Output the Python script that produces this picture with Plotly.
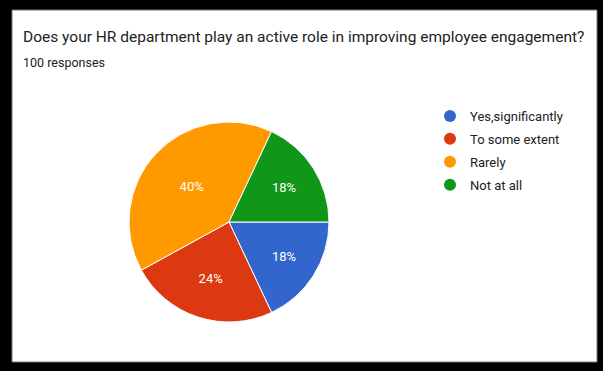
import plotly.graph_objects as go

# Survey answers and their share of the 100 responses
categories = ["Yes,significantly", "To some extent", "Rarely", "Not at all"]
shares = [18, 24, 40, 18]
colors = ["#3366CC", "#DC3912", "#FF9900", "#109618"]

title_text = "Does your HR department play an active role in improving employee engagement?"
subtitle_text = "100 responses"

W, H = 603, 371
FONT = "Roboto, Arial, sans-serif"

fig = go.Figure()

fig.add_trace(go.Pie(
    labels=categories,
    values=shares,
    sort=False,
    direction="clockwise",
    rotation=90,
    marker=dict(colors=colors, line=dict(color="white", width=1)),
    textinfo="percent",
    texttemplate="%{percent:.0%}",
    textposition="inside",
    insidetextorientation="horizontal",
    textfont=dict(color="white", size=13, family=FONT),
    showlegend=False,
    hoverinfo="label+percent",
    domain=dict(x=[(229 - 100) / W, (229 + 100) / W],
                y=[(H - 222 - 100) / H, (H - 222 + 100) / H]),
))

# Legend entries with round markers
for name, col in zip(categories, colors):
    fig.add_trace(go.Scatter(
        x=[None], y=[None], mode="markers", name=name,
        legendgroup=name,
        marker=dict(symbol="circle", size=12, color=col),
    ))

fig.update_layout(
    width=W, height=H,
    margin=dict(l=0, r=0, t=0, b=0),
    paper_bgcolor="black",
    plot_bgcolor="white",
    xaxis=dict(visible=False, domain=[12 / W, 597 / W], fixedrange=True),
    yaxis=dict(visible=False, domain=[(H - 362) / H, (H - 10) / H], fixedrange=True),
    showlegend=True,
    legend=dict(
        x=430 / W, y=1 - 101 / H, xanchor="left", yanchor="top",
        bgcolor="rgba(0,0,0,0)",
        font=dict(family=FONT, size=13, color="#222222"),
        itemwidth=30,
        traceorder="grouped",
        tracegroupgap=3,
    ),
    shapes=[dict(
        type="rect", xref="paper", yref="paper",
        x0=12 / W, x1=597 / W, y0=(H - 362) / H, y1=(H - 10) / H,
        fillcolor="white", line=dict(color="#777777", width=1), layer="below",
    )],
    annotations=[
        dict(text=title_text, x=21 / W, y=1 - 37 / H, xref="paper", yref="paper",
             xanchor="left", yanchor="middle", showarrow=False,
             font=dict(family=FONT, size=15.5, color="#222222")),
        dict(text=subtitle_text, x=21 / W, y=1 - 62 / H, xref="paper", yref="paper",
             xanchor="left", yanchor="middle", showarrow=False,
             font=dict(family=FONT, size=12.5, color="#222222")),
    ],
)

fig.write_html("out.html")
